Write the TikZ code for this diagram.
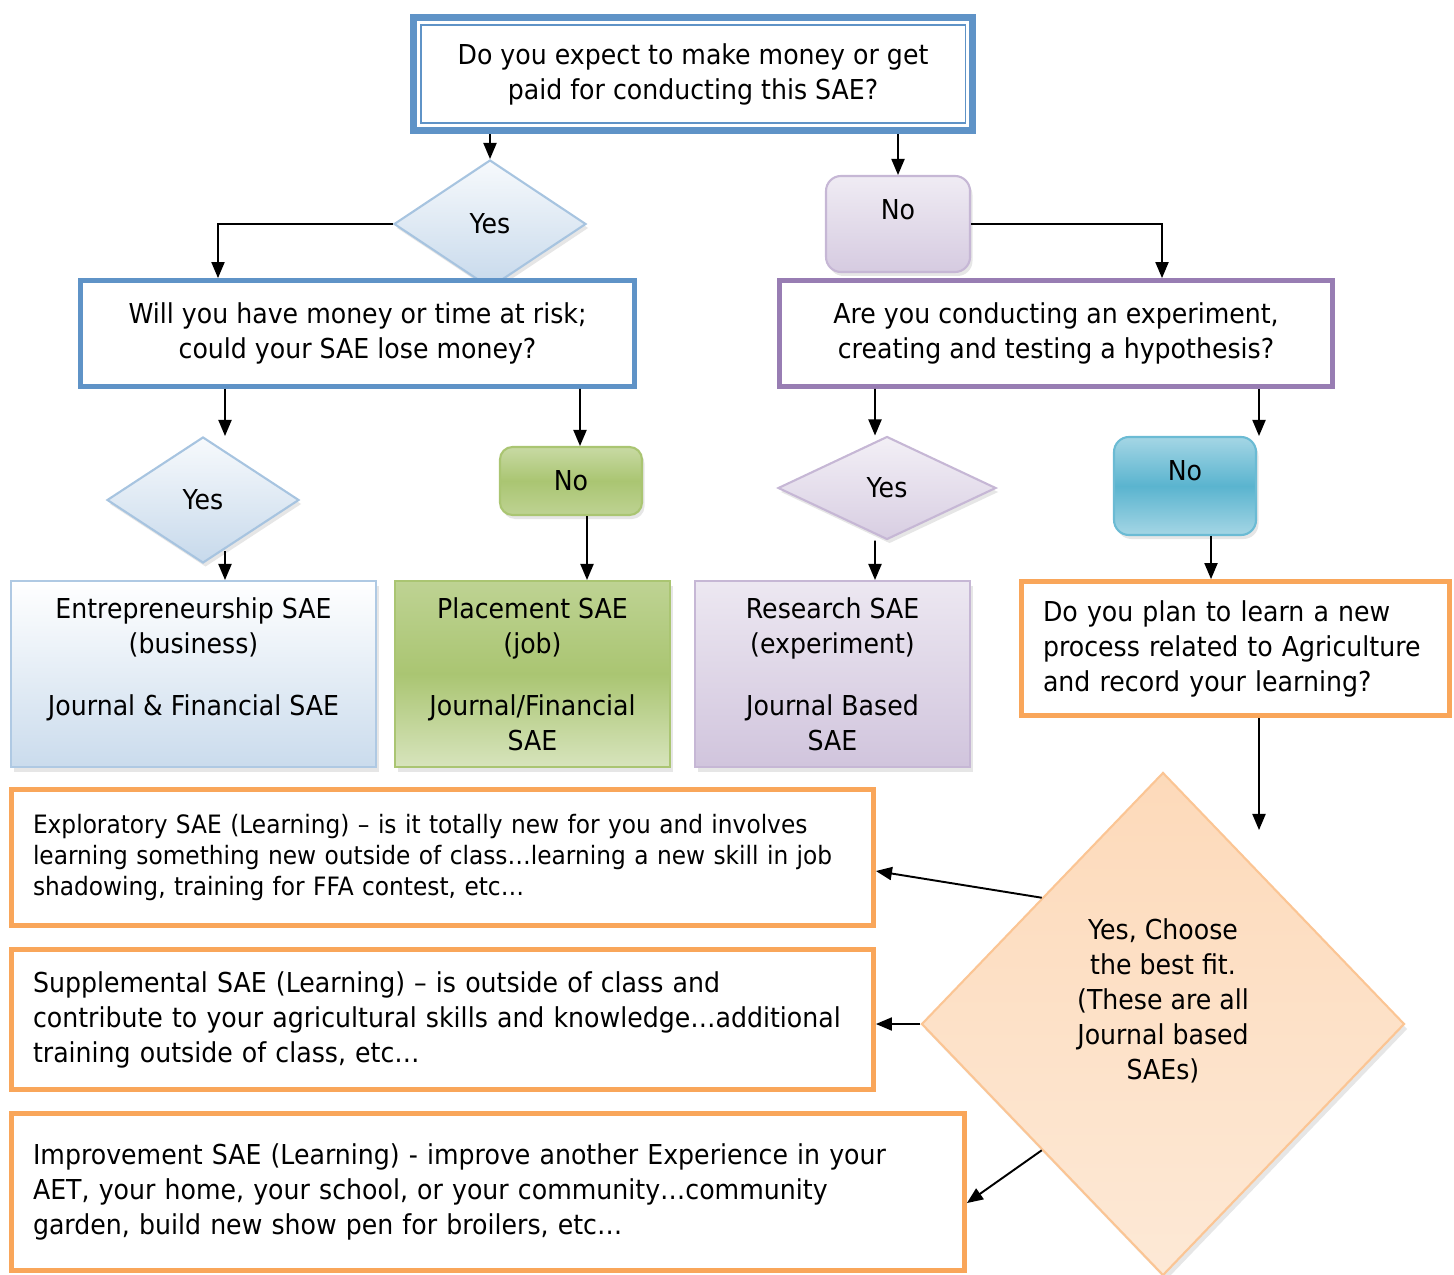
\documentclass[tikz,border=0pt]{standalone}
\usepackage{fontspec}
\setmainfont{DejaVu Sans}[FakeStretch=0.92]
\usetikzlibrary{shapes.geometric, arrows, positioning, shadows}
\definecolor{lineblue}{HTML}{5F93C7}
\definecolor{linepurple}{HTML}{987DB3}
\definecolor{lineorange}{HTML}{F9A65A}
\definecolor{darkgreen}{HTML}{9BBB59}
\definecolor{nocyan}{HTML}{5AB4CF}
\newcommand{\bigtxt}{\fontsize{15.6}{19.9}\selectfont}
\newcommand{\smalltxt}{\fontsize{14.4}{17.9}\selectfont}
\tikzstyle{topbox} = [rectangle, minimum width=11.18cm, minimum height=2.26cm, text centered, align=center, draw=lineblue, fill=white, line width=4.5pt]
\tikzstyle{askblue} = [rectangle, minimum width=11.08cm, minimum height=2.12cm, text centered, align=center, draw=lineblue, fill=white, line width=2.8pt]
\tikzstyle{askpurple} = [rectangle, minimum width=11.06cm, minimum height=2.12cm, text centered, align=center, draw=linepurple, fill=white, line width=2.8pt]
\tikzstyle{askorange} = [rectangle, minimum width=8.56cm, minimum height=2.68cm, text width=7.7cm, inner xsep=0.43cm, align=left, draw=lineorange, fill=white, line width=2.8pt]
\tikzstyle{learnbox} = [rectangle, minimum width=17.24cm, text width=16.38cm, inner xsep=0.43cm, align=left, draw=lineorange, fill=white, line width=2.8pt]
\tikzstyle{yesblue} = [diamond, minimum width=3.84cm, minimum height=2.56cm, inner sep=0pt, draw=lineblue!55, top color=lineblue!5, bottom color=lineblue!35, line width=1.2pt, drop shadow={opacity=0.2, shadow xshift=0.05cm, shadow yshift=-0.08cm}]
\tikzstyle{yespurple} = [diamond, minimum width=4.36cm, minimum height=2.06cm, inner sep=0pt, draw=linepurple!55, top color=linepurple!12, bottom color=linepurple!38, line width=1.2pt, drop shadow={opacity=0.2, shadow xshift=0.05cm, shadow yshift=-0.08cm}]
\tikzstyle{nopurple} = [rectangle, rounded corners=0.3cm, minimum width=2.88cm, minimum height=1.92cm, draw=linepurple!55, top color=linepurple!15, bottom color=linepurple!40, line width=1.2pt, text depth=0.56cm, drop shadow={opacity=0.2, shadow xshift=0.05cm, shadow yshift=-0.08cm}]
\tikzstyle{nogreen} = [rectangle, rounded corners=0.25cm, minimum width=2.84cm, minimum height=1.36cm, draw=darkgreen!85, top color=darkgreen!55, bottom color=darkgreen!65, middle color=darkgreen!85, line width=1.2pt, drop shadow={opacity=0.2, shadow xshift=0.05cm, shadow yshift=-0.08cm}]
\tikzstyle{nocyanbox} = [rectangle, rounded corners=0.3cm, minimum width=2.84cm, minimum height=1.96cm, draw=nocyan!90, top color=nocyan!55, bottom color=nocyan!55, middle color=nocyan, line width=1.2pt, text depth=0.6cm, drop shadow={opacity=0.2, shadow xshift=0.05cm, shadow yshift=-0.08cm}]
\tikzstyle{saeblue} = [rectangle, minimum width=7.3cm, minimum height=3.72cm, align=center, draw=lineblue!50, top color=white, bottom color=lineblue!33, line width=1.2pt, drop shadow={opacity=0.2, shadow xshift=0.06cm, shadow yshift=-0.1cm}]
\tikzstyle{saegreen} = [rectangle, minimum width=5.5cm, minimum height=3.72cm, align=center, draw=darkgreen!85, top color=darkgreen!65, bottom color=darkgreen!40, middle color=darkgreen!85, line width=1.2pt, drop shadow={opacity=0.2, shadow xshift=0.06cm, shadow yshift=-0.1cm}]
\tikzstyle{saepurple} = [rectangle, minimum width=5.5cm, minimum height=3.72cm, align=center, draw=linepurple!55, top color=linepurple!18, bottom color=linepurple!45, line width=1.2pt, drop shadow={opacity=0.2, shadow xshift=0.06cm, shadow yshift=-0.1cm}]
\tikzstyle{choosebox} = [diamond, minimum width=9.66cm, minimum height=10.06cm, inner sep=0pt, align=center, draw=lineorange!65, top color=lineorange!42, bottom color=lineorange!25, line width=1.2pt, drop shadow={opacity=0.2, shadow xshift=0.06cm, shadow yshift=-0.1cm}]
\tikzstyle{arrow} = [line width=1.1pt,->,>=triangle 45]

\begin{document}
\begin{tikzpicture}[node distance=2cm, font=\bigtxt]
        \useasboundingbox (0,0) rectangle (29.08,-25.5);

        \node (top) [topbox] at (13.86,-1.48) {Do you expect to make money or get\\paid for conducting this SAE?};
        \draw [lineblue, line width=1.1pt] ([shift={(0.22,-0.22)}]top.north west) rectangle ([shift={(-0.22,0.22)}]top.south east);
        \node (yes1) [yesblue, below of=top, xshift=-4.06cm, yshift=-1cm] {Yes};
        \node (no1) [nopurple, below of=top, xshift=4.1cm, yshift=-1cm] {No};
        \node (askrisk) [askblue, below of=yes1, xshift=-2.65cm, yshift=-0.19cm] {Will you have money or time at risk;\\could your SAE lose money?};
        \node (askexp) [askpurple, below of=no1, xshift=3.16cm, yshift=-0.19cm] {Are you conducting an experiment,\\creating and testing a hypothesis?};
        \node (yes2) [yesblue, minimum height=2.52cm, below of=askrisk, xshift=-3.09cm, yshift=-1.33cm] {Yes};
        \node (no2) [nogreen, below of=askrisk, xshift=4.27cm, yshift=-0.95cm] {No};
        \node (yes3) [yespurple, below of=askexp, xshift=-3.38cm, yshift=-1.09cm] {Yes};
        \node (no3) [nocyanbox, below of=askexp, xshift=2.58cm, yshift=-1.05cm] {No};
        \node (entre) [saeblue, below of=yes2, xshift=-0.19cm, yshift=-1.48cm] {Entrepreneurship SAE\\(business)\\[0.54cm]Journal \& Financial SAE\\~};
        \node (place) [saegreen, below of=no2, xshift=-0.77cm, yshift=-1.86cm] {Placement SAE\\(job)\\[0.54cm]Journal/Financial\\SAE};
        \node (research) [saepurple, below of=yes3, xshift=-1.09cm, yshift=-1.72cm] {Research SAE\\(experiment)\\[0.54cm]Journal Based\\SAE};
        \node (asklearn) [askorange, below of=no3, xshift=1.01cm, yshift=-1.25cm] {Do you plan to learn a new\\process related to Agriculture\\and record your learning?};
        \node (choose) [choosebox, below of=asklearn, xshift=-1.45cm, yshift=-5.51cm] {Yes, Choose\\the best fit.\\(These are all\\Journal based\\SAEs)\\[0.3cm]~};
        \node (explo) [learnbox, minimum height=2.72cm, below of=entre, xshift=4.98cm, yshift=-1.67cm, font=\smalltxt] {Exploratory SAE (Learning) -- is it totally new for you and involves\\learning something new outside of class\dots learning a new skill in job\\shadowing, training for FFA contest, etc\dots};
        \node (suppl) [learnbox, minimum height=2.8cm, below of=explo, yshift=-1.24cm] {Supplemental SAE (Learning) -- is outside of class and\\contribute to your agricultural skills and knowledge\dots additional\\training outside of class, etc\dots};
        \node (improv) [learnbox, minimum width=19.06cm, text width=18.2cm, minimum height=3.14cm, below of=suppl, xshift=0.91cm, yshift=-1.45cm] {Improvement SAE (Learning) - improve another Experience in your\\AET, your home, your school, or your community\dots community\\garden, build new show pen for broilers, etc\dots};
        \coordinate (choosein) at ([xshift=0.47cm, yshift=-2.24cm]asklearn.south);


        \draw [arrow] (top.south -| yes1.north) -- (yes1.north);
        \draw [arrow] (top.south -| no1.north) -- (no1.north);
        \draw [arrow] (yes1.west) -| ([xshift=-2.79cm]askrisk.north);
        \draw [arrow] (no1.east) -| ([xshift=2.12cm]askexp.north);
        \draw [arrow] ([xshift=-2.65cm]askrisk.south) -- ([xshift=0.44cm]yes2.north);
        \draw [arrow] ([xshift=4.45cm]askrisk.south) -- ([xshift=0.18cm]no2.north);
        \draw [arrow] ([xshift=0.44cm, yshift=0.26cm]yes2.south) -- ([xshift=0.63cm]entre.north);
        \draw [arrow] ([xshift=0.32cm]no2.south) -- ([xshift=1.09cm]place.north);
        \draw [arrow] ([xshift=-3.62cm]askexp.south) -- ([xshift=-0.24cm]yes3.north);
        \draw [arrow] ([xshift=-0.24cm]yes3.south) -- ([xshift=0.85cm]research.north);
        \draw [arrow] ([xshift=4.06cm]askexp.south) -- ([xshift=1.48cm]no3.north);
        \draw [arrow] ([xshift=0.52cm]no3.south) -- ([xshift=-0.49cm]asklearn.north);
        \draw [arrow] ([xshift=0.47cm]asklearn.south) -- (choosein);
        \draw [arrow] (choose.north west) -- ([yshift=-0.27cm]explo.east);
        \draw [arrow] (choose.west) -- (choose.west -| suppl.east);
        \draw [arrow] (choose.south west) -- ([yshift=-0.22cm]improv.east);


    \end{tikzpicture}
\end{document}
